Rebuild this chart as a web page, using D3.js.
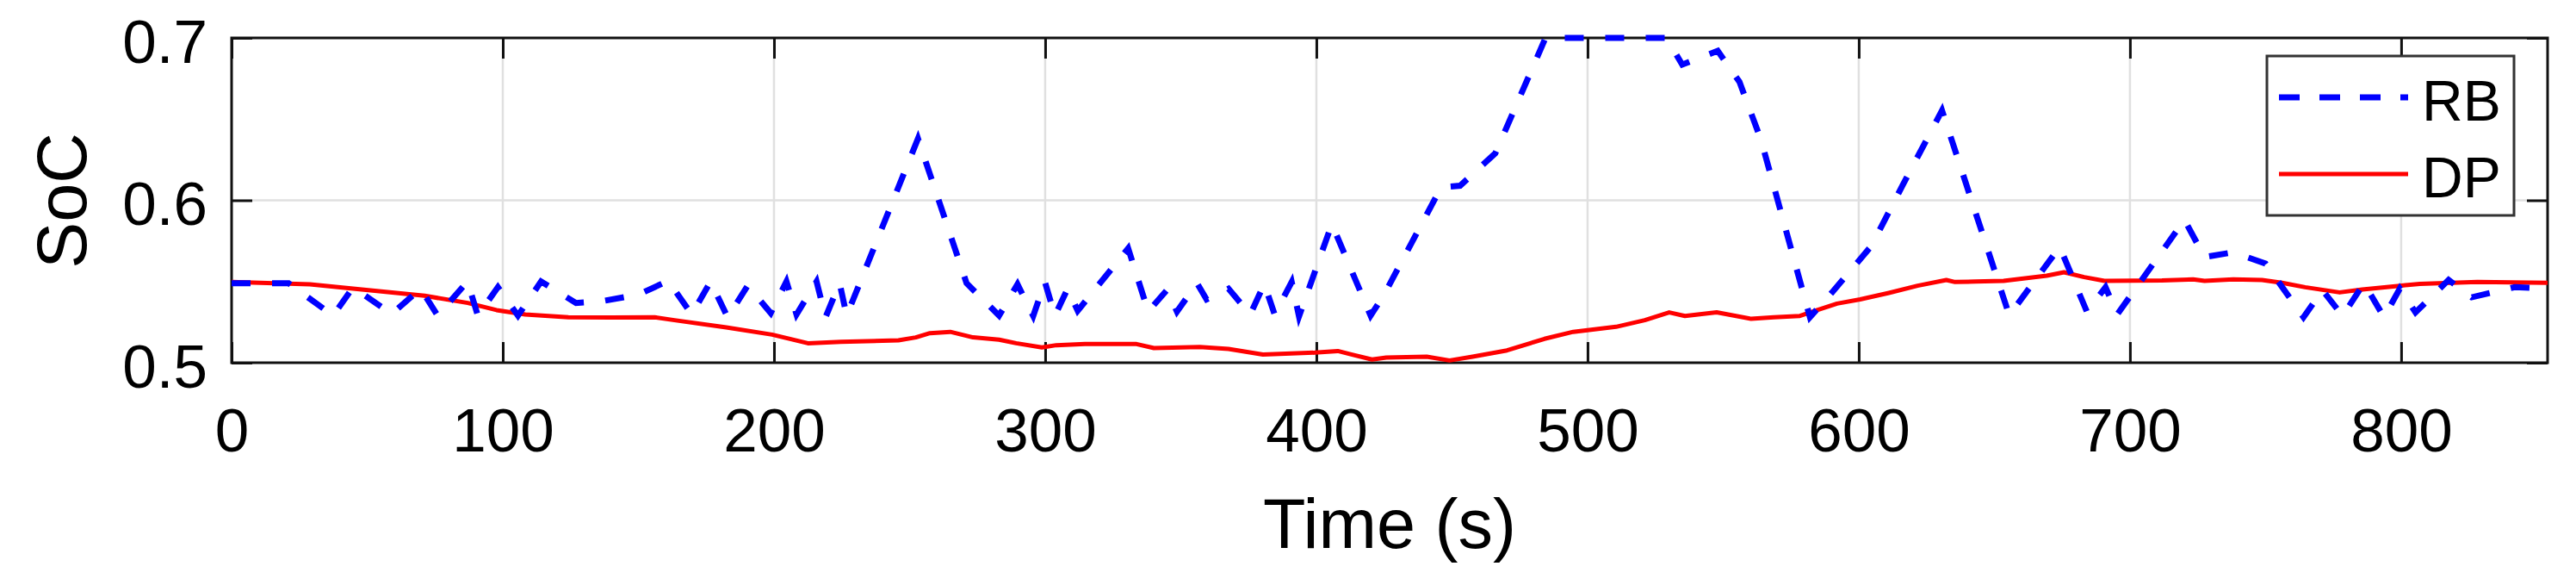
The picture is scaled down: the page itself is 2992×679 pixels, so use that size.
<!DOCTYPE html>
<html>
<head>
<meta charset="utf-8">
<script src="https://cdn.jsdelivr.net/npm/d3@7"></script>
<style>
  body { margin: 0; background: #fff; }
  text { font-family: "Liberation Sans", Arial, Helvetica, sans-serif; fill: #000; }
</style>
</head>
<body>
<script>
// tick labels
const X_TICKS = [0, 100, 200, 300, 400, 500, 600, 700, 800]
const Y_TICKS = [0.5, 0.6, 0.7]

// legend
const SERIES_NAMES = ['RB', 'DP']

// RB (dashed blue)
const rbTime = [0, 21, 37.4, 44.8, 59, 69.7, 76, 87, 90.8, 98.2,
  105.6, 114.1, 127, 137, 150, 161, 169.7, 176.6, 182.9, 190.3,
  198.8, 204.6, 208.3, 215.7, 219, 224.2, 226.8, 253.1, 271, 283,
  289.8, 295.6, 299.9, 303.6, 308.3, 312, 330.6, 338, 345, 348.6,
  356, 359.5, 367.6, 375.6, 380.8, 384.6, 390.9, 393.6, 405.7, 420,
  425, 446, 453, 466, 484.5, 529.1, 534.9, 548, 556, 564,
  582, 590, 604.7, 616.4, 630.7, 655.5, 674.1, 684.1, 691, 695.3,
  720.1, 727.5, 738.1, 750, 764, 771, 778.4, 786.3, 793.7, 799.5,
  805.3, 817.5, 826, 841.9, 854]
const rbSoc = [0.549, 0.549, 0.529, 0.5465, 0.530, 0.5456, 0.529, 0.550, 0.529, 0.5465,
  0.529, 0.550, 0.5368, 0.538, 0.542, 0.5504, 0.5297, 0.550, 0.528, 0.5474,
  0.5306, 0.550, 0.5297, 0.550, 0.528, 0.549, 0.529, 0.638, 0.549, 0.529,
  0.5483, 0.5288, 0.5497, 0.529, 0.5456, 0.532, 0.5704, 0.5315, 0.545, 0.5315,
  0.549, 0.539, 0.5456, 0.5297, 0.5486, 0.5297, 0.5497, 0.5285, 0.5854, 0.529,
  0.542, 0.608, 0.609, 0.629, 0.70, 0.70, 0.6836, 0.692, 0.673, 0.637,
  0.528, 0.543, 0.572, 0.610, 0.6553, 0.5292, 0.5713, 0.5315, 0.5465, 0.5297,
  0.588, 0.565, 0.568, 0.561, 0.528, 0.5447, 0.5288, 0.549, 0.528, 0.5456,
  0.531, 0.551, 0.5403, 0.5465, 0.5456]

// DP (solid red)
const dpTime = [0, 28.9, 44.8, 71.2, 87.1, 97.7, 108.3, 124.2, 140, 156,
  163.3, 182.4, 199.3, 212.5, 224.7, 245.9, 252.3, 257.5, 265, 273.4,
  283, 289.3, 298.8, 304.1, 314.7, 333.7, 340.1, 357, 367.6, 380.3,
  399.4, 407.9, 413.2, 420.5, 425.8, 440.7, 449.1, 457.6, 470.3, 484.1,
  494.7, 510.5, 521.1, 530.1, 535.9, 547.6, 560.3, 568.7, 578.3, 584.7,
  592, 600.5, 611.1, 621.7, 632.3, 635.5, 643, 653.4, 669.3, 675.7,
  683.1, 690.6, 711.8, 723.3, 727.5, 738.1, 748.7, 756.1, 764.6, 777.3,
  785.7, 799.5, 806.9, 828.1, 854]
const dpSoc = [0.5497, 0.5483, 0.5456, 0.5412, 0.5368, 0.5324, 0.5297, 0.528, 0.5278, 0.528,
  0.5262, 0.5218, 0.5173, 0.512, 0.5129, 0.5138, 0.5156, 0.5182, 0.519, 0.5156,
  0.5142, 0.512, 0.5094, 0.5108, 0.5115, 0.5115, 0.509, 0.5097, 0.5085, 0.505,
  0.5062, 0.5072, 0.505, 0.502, 0.5032, 0.5037, 0.5014, 0.5037, 0.5076, 0.5147,
  0.519, 0.5221, 0.5262, 0.531, 0.5288, 0.531, 0.527, 0.528, 0.5288, 0.5324,
  0.5364, 0.539, 0.543, 0.5474, 0.5509, 0.5497, 0.55, 0.5504, 0.5536, 0.5557,
  0.5527, 0.5504, 0.5506, 0.5513, 0.5504, 0.5513, 0.5509, 0.5492, 0.5465, 0.5433,
  0.5451, 0.5474, 0.5486, 0.5497, 0.5492]

/**
 * position plot
 */
const MARGIN = {top: 44, bottom: 258, left: 269, right: 33}
const W = 2992, H = 679
const WIDTH = W - MARGIN.left - MARGIN.right
const HEIGHT = H - MARGIN.top - MARGIN.bottom
const TICK = 24

const SVG = d3.select('body').append('svg')
  .attr('width', W)
  .attr('height', H)

const G = SVG.append('g')
  .attr('transform', `translate(${MARGIN.left}, ${MARGIN.top})`)

const x = d3.scaleLinear().domain([0, 854]).range([0, WIDTH])
const y = d3.scaleLinear().domain([0.5, 0.7]).range([HEIGHT, 0])

// grid
G.append('g')
  .selectAll('line.vx')
  .data(X_TICKS.slice(1))
  .join('line')
    .attr('x1', d => x(d)).attr('x2', d => x(d))
    .attr('y1', 0).attr('y2', HEIGHT)
    .attr('stroke', '#e0e0e0').attr('stroke-width', 2.5)
G.append('g')
  .selectAll('line')
  .data(Y_TICKS.slice(1, -1))
  .join('line')
    .attr('x1', 0).attr('x2', WIDTH)
    .attr('y1', d => y(d)).attr('y2', d => y(d))
    .attr('stroke', '#e0e0e0').attr('stroke-width', 2.5)

// axes, ticks point inwards
function styleAxis(g) {
  g.select('.domain').remove()
  g.selectAll('.tick line').attr('stroke', '#111').attr('stroke-width', 3)
}

G.append('g')
  .attr('transform', `translate(0, ${HEIGHT})`)
  .call(d3.axisBottom(x).tickValues(X_TICKS).tickSize(-TICK).tickPadding(53))
  .call(styleAxis)
  .selectAll('text').style('font-size', '71px').attr('font-family', null)

G.append('g')
  .call(d3.axisTop(x).tickValues(X_TICKS).tickSize(-TICK).tickFormat(''))
  .call(styleAxis)

G.append('g')
  .call(d3.axisLeft(y).tickValues(Y_TICKS).tickSize(-TICK).tickPadding(28).tickFormat(d3.format('.1f')))
  .call(styleAxis)
  .selectAll('text').style('font-size', '71px').attr('dy', '0.4em').attr('font-family', null)

G.append('g')
  .attr('transform', `translate(${WIDTH}, 0)`)
  .call(d3.axisRight(y).tickValues(Y_TICKS).tickSize(-TICK).tickFormat(''))
  .call(styleAxis)

// box
G.append('rect')
  .attr('width', WIDTH).attr('height', HEIGHT)
  .attr('fill', 'none').attr('stroke', '#111').attr('stroke-width', 3)

// lines
const line = d3.line().x(d => x(d[0])).y(d => y(d[1]))

G.append('path')
  .datum(dpTime.map((t, i) => [t, dpSoc[i]]))
  .attr('d', line)
  .attr('fill', 'none').attr('stroke', '#ff0000')
  .attr('stroke-width', 5).attr('stroke-linejoin', 'round')

G.append('path')
  .datum(rbTime.map((t, i) => [t, rbSoc[i]]))
  .attr('d', line)
  .attr('fill', 'none').attr('stroke', '#0000ff')
  .attr('stroke-width', 7).attr('stroke-dasharray', '22,25')

// axis titles
SVG.append('text')
  .attr('x', MARGIN.left + WIDTH / 2).attr('y', 636)
  .attr('text-anchor', 'middle').style('font-size', '81px')
  .text('Time (s)')

SVG.append('text')
  .attr('transform', 'translate(100, 233) rotate(-90)')
  .attr('text-anchor', 'middle').style('font-size', '81px')
  .text('SoC')

// legend
const LEG = SVG.append('g').attr('transform', 'translate(2633, 65)')
LEG.append('rect')
  .attr('width', 287).attr('height', 185)
  .attr('fill', '#fff').attr('stroke', '#333').attr('stroke-width', 3)

const ITEMS = LEG.selectAll('g.item')
  .data(SERIES_NAMES)
  .join('g')
    .attr('class', 'item')
    .attr('transform', (d, i) => `translate(0, ${i === 0 ? 48 : 137})`)

ITEMS.append('line')
  .attr('x1', 14).attr('x2', 164)
  .attr('stroke', (d, i) => i === 0 ? '#0000ff' : '#ff0000')
  .attr('stroke-width', (d, i) => i === 0 ? 7 : 5)
  .attr('stroke-dasharray', (d, i) => i === 0 ? '24,23' : null)

ITEMS.append('text')
  .attr('x', 180).attr('y', 27)
  .style('font-size', '66px')
  .text(d => d)
</script>
</body>
</html>
